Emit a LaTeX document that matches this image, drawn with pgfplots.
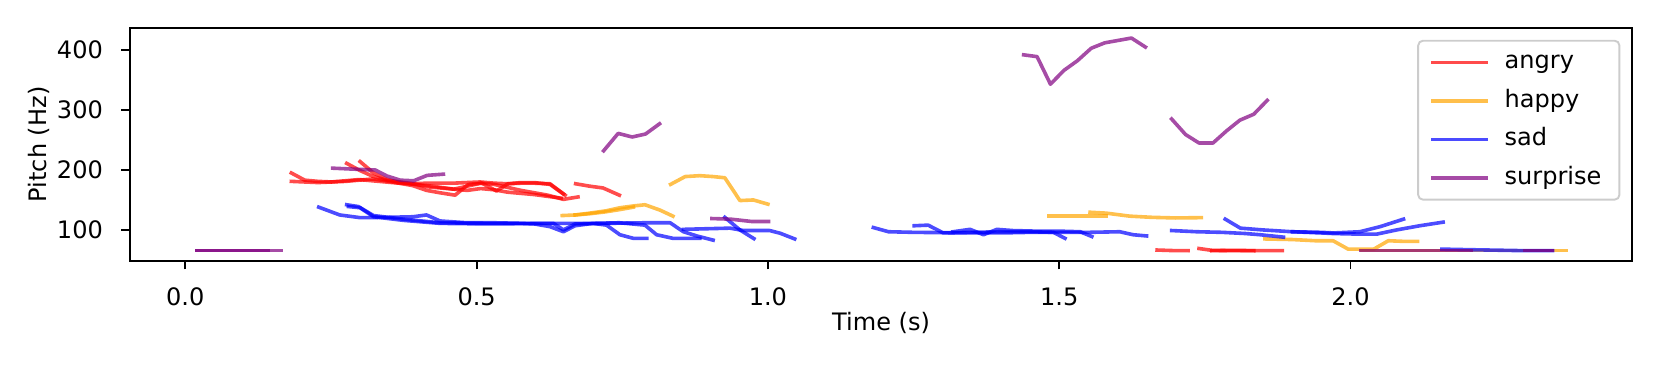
\documentclass[border=0pt]{standalone}
\usepackage{fontspec}
\setmainfont{DejaVu Sans}
\usepackage{pgfplots}
\pgfplotsset{compat=1.18}
\definecolor{mplorange}{HTML}{FFA500}
\definecolor{mplpurple}{HTML}{800080}
\definecolor{legendedge}{HTML}{CCCCCC}
\tikzset{
  pc/.style={line width=1.5pt, draw opacity=0.7, line join=round, line cap=rect},
  angryln/.style={pc, draw=red},
  happyln/.style={pc, draw=mplorange},
  sadln/.style={pc, draw=blue},
  surpriseln/.style={pc, draw=mplpurple},
}

\begin{document}
\begin{tikzpicture}[x=1pt,y=1pt]
\path[use as bounding box] (-54.0,-44.95) rectangle (637.3,108.6);
\begin{axis}[
  at={(0,0)}, anchor=south west, scale only axis,
  width=625.4pt, height=97.06pt,
  xmin=-0.0954, xmax=2.4839, ymin=48.3, ymax=437.2,
  xtick={0,0.5,1,1.5,2}, xticklabels={0.0,0.5,1.0,1.5,2.0},
  ytick={100,200,300,400}, yticklabels={100,200,300,400},
  tick align=outside, xtick pos=left, ytick pos=left,
  major tick length=3.5pt,
  tick style={black, line width=0.8pt},
  axis line style={line width=0.8pt},
  xticklabel style={anchor=north, inner sep=0pt, yshift=-7.4pt},
  yticklabel style={anchor=east, inner sep=0pt, xshift=-7.5pt},
  xlabel={Time (s)}, ylabel={Pitch (Hz)},
  xlabel style={at={(axis description cs:0.5,-0.266)}, anchor=center},
  ylabel style={at={(axis description cs:-0.0604,0.5)}, anchor=center},
  legend image code/.code={\draw[#1] (0pt,0pt) -- (22pt,0pt);},
  legend cell align=left,
  legend style={at={(1,1)}, anchor=north east, xshift=-5pt, yshift=-5pt,
    draw=legendedge, line width=0.8pt, rounded corners=2pt,
    fill=white, fill opacity=0.8, text opacity=1, draw opacity=1,
    inner xsep=5.5pt, inner ysep=2pt, row sep=2.05pt,
    nodes={inner sep=2pt, text height=7.6pt, text depth=2.4pt},
    /tikz/every odd column/.append style={column sep=5pt}},
]
% angry
\addplot[angryln, forget plot] coordinates {(0.182,195) (0.205,183) (0.228,181) (0.251,180) (0.275,181) (0.298,183) (0.321,185) (0.344,182) (0.367,178) (0.390,177) (0.414,178) (0.437,178) (0.460,178) (0.483,179) (0.506,180) (0.530,178) (0.553,177) (0.576,178) (0.599,178) (0.626,177) (0.652,158)};
\addplot[angryln, forget plot] coordinates {(0.182,181) (0.205,180) (0.228,179) (0.251,180) (0.275,182) (0.298,184) (0.321,182) (0.344,180) (0.367,178) (0.390,174) (0.414,166) (0.437,162) (0.463,158) (0.486,176) (0.509,178) (0.534,165) (0.554,177) (0.576,179) (0.599,179) (0.626,176) (0.649,160)};
\addplot[angryln, forget plot] coordinates {(0.277,211) (0.300,199) (0.323,189) (0.346,183) (0.369,180) (0.392,177) (0.415,172) (0.438,170) (0.461,168) (0.484,173) (0.507,178) (0.530,176) (0.553,171) (0.576,166) (0.599,162) (0.622,158) (0.649,151) (0.674,155)};
\addplot[angryln, forget plot] coordinates {(0.300,214) (0.323,195) (0.346,184) (0.369,179) (0.392,176) (0.415,174) (0.438,171) (0.461,168) (0.484,166) (0.507,169) (0.530,167) (0.553,163) (0.576,161) (0.599,159) (0.622,156) (0.645,153)};
\addplot[angryln, forget plot] coordinates {(0.670,177) (0.694,173) (0.717,170) (0.745,158)};
\addplot[angryln, forget plot] coordinates {(1.668,66.5) (1.695,65.6) (1.721,65.4)};
\addplot[angryln, forget plot] coordinates {(1.740,69) (1.762,66) (1.800,65.4) (1.850,65.4) (1.883,65.4)};
\addplot[angryln, forget plot] coordinates {(1.762,65.4) (1.800,66) (1.834,65.4)};
% happy
\addplot[happyln, forget plot] coordinates {(0.647,124) (0.670,125) (0.694,128) (0.723,132) (0.746,137) (0.769,140) (0.789,142) (0.815,133) (0.837,123)};
\addplot[happyln, forget plot] coordinates {(0.669,125) (0.694,127) (0.720,130) (0.746,134) (0.769,138)};
\addplot[happyln, forget plot] coordinates {(0.833,176) (0.858,189) (0.883,190.5) (0.906,189) (0.926,187) (0.952,149) (0.975,150) (1.000,143)};
\addplot[happyln, forget plot] coordinates {(1.483,123) (1.510,123) (1.535,123) (1.558,123) (1.581,123)};
\addplot[happyln, forget plot] coordinates {(1.553,129.5) (1.581,128) (1.621,123) (1.660,121) (1.700,120) (1.744,120.5)};
\addplot[happyln, forget plot] coordinates {(1.853,85) (1.900,84) (1.940,82) (1.970,82) (1.996,68) (2.040,68) (2.065,82) (2.090,81) (2.115,81)};
\addplot[happyln, forget plot] coordinates {(2.020,65.4) (2.200,65.4) (2.371,65.4)};
% sad
\addplot[sadln, forget plot] coordinates {(0.229,138) (0.265,125) (0.300,120.5) (0.346,121) (0.391,122) (0.414,125) (0.437,115) (0.483,112) (0.530,112) (0.576,111) (0.599,110) (0.626,105.5) (0.649,97) (0.669,107) (0.700,111) (0.723,108) (0.746,92) (0.769,86) (0.792,86)};
\addplot[sadln, forget plot] coordinates {(0.277,142) (0.297,139) (0.323,124) (0.374,118) (0.437,112) (0.517,111) (0.576,111) (0.632,111) (0.700,111) (0.745,112) (0.789,108) (0.809,92) (0.837,86) (0.883,86)};
\addplot[sadln, forget plot] coordinates {(0.280,139) (0.300,137) (0.323,122) (0.374,116) (0.437,111) (0.517,110) (0.632,111) (0.649,100) (0.669,110) (0.723,111) (0.790,112) (0.832,112) (0.855,97) (0.878,90) (0.906,83)};
\addplot[sadln, forget plot] coordinates {(0.855,101) (0.895,102) (0.935,103) (0.958,99) (1.003,99) (1.021,94.5) (1.046,85)};
\addplot[sadln, forget plot] coordinates {(0.926,121) (0.952,100) (0.976,85.5)};
\addplot[sadln, forget plot] coordinates {(1.181,104) (1.207,97) (1.250,96) (1.300,95.5) (1.350,95) (1.400,95) (1.450,96) (1.500,96) (1.550,96) (1.604,97) (1.627,92) (1.650,90)};
\addplot[sadln, forget plot] coordinates {(1.251,107) (1.275,108) (1.301,95) (1.350,96) (1.400,97) (1.450,97) (1.490,96) (1.510,86)};
\addplot[sadln, forget plot] coordinates {(1.318,97) (1.347,101) (1.370,92) (1.393,101) (1.420,99) (1.460,98) (1.500,98) (1.536,97) (1.556,89)};
\addplot[sadln, forget plot] coordinates {(1.693,99) (1.736,97) (1.780,96) (1.820,94) (1.845,92) (1.885,88)};
\addplot[sadln, forget plot] coordinates {(1.785,118) (1.811,103) (1.850,100) (1.900,97) (1.950,96) (1.971,95) (2.016,97) (2.051,105.5) (2.091,118)};
\addplot[sadln, forget plot] coordinates {(1.900,97) (1.950,95) (1.971,94) (2.016,93) (2.045,93) (2.079,100) (2.119,107) (2.159,113)};
\addplot[sadln, forget plot] coordinates {(2.157,68) (2.208,67) (2.300,65.4) (2.347,65.4)};
% surprise
\addplot[surpriseln, forget plot] coordinates {(0.019,65.4) (0.165,65.4)};
\addplot[surpriseln, forget plot] coordinates {(0.019,65.4) (0.142,65.4)};
\addplot[surpriseln, forget plot] coordinates {(0.253,203) (0.298,201) (0.326,200) (0.346,190) (0.369,183) (0.392,182) (0.415,191) (0.443,193)};
\addplot[surpriseln, forget plot] coordinates {(0.718,232) (0.743,261) (0.767,255) (0.790,260) (0.814,277)};
\addplot[surpriseln, forget plot] coordinates {(0.904,119) (0.936,118) (0.973,114) (1.001,114)};
\addplot[surpriseln, forget plot] coordinates {(1.439,392) (1.462,389) (1.485,343) (1.508,366) (1.531,382) (1.555,403) (1.578,412) (1.601,416) (1.624,420) (1.648,405)};
\addplot[surpriseln, forget plot] coordinates {(1.693,285) (1.717,259) (1.740,245) (1.764,245) (1.787,265) (1.810,283) (1.834,293) (1.857,316)};
\addplot[surpriseln, forget plot] coordinates {(2.017,65.4) (2.208,65.4)};
\addplot[surpriseln, forget plot] coordinates {(2.300,65.4) (2.347,65.4)};
\addlegendimage{angryln}
\addlegendimage{happyln}
\addlegendimage{sadln}
\addlegendimage{surpriseln}
\legend{angry,happy,sad,surprise}
\end{axis}
\end{tikzpicture}
\end{document}
